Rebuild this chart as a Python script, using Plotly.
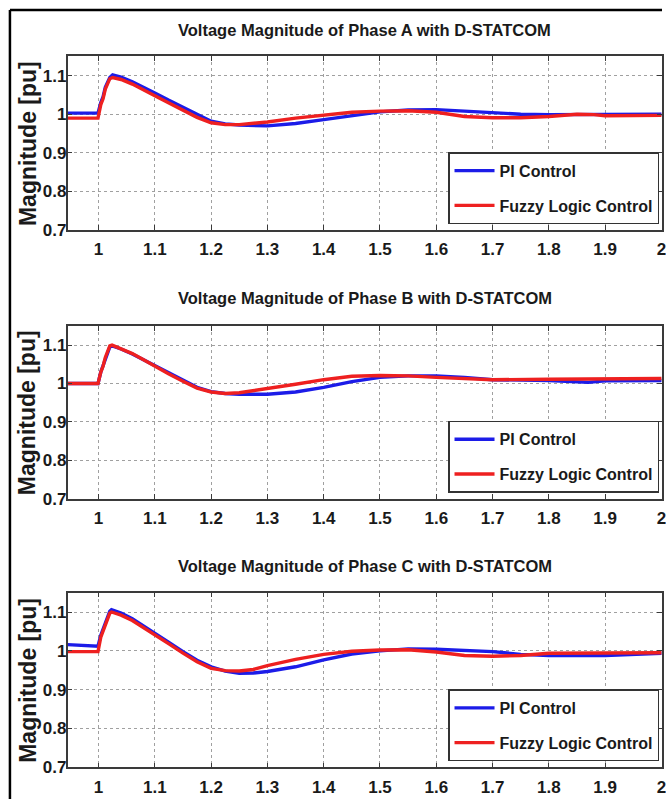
import plotly.graph_objects as go

# ---- Phase A ----
t_a_pi = [0.945, 0.999, 1.004, 1.008, 1.012, 1.02, 1.025, 1.04, 1.06, 1.08, 1.1, 1.125, 1.15, 1.175,
          1.2, 1.225, 1.25, 1.3, 1.35, 1.4, 1.45, 1.5, 1.55, 1.6, 1.65, 1.7, 1.75, 1.8, 1.9, 2.0]
v_a_pi = [1.003, 1.003, 1.03, 1.045, 1.07, 1.095, 1.102, 1.096, 1.084, 1.07, 1.055, 1.036, 1.018, 0.998,
          0.982, 0.975, 0.972, 0.97, 0.976, 0.986, 0.997, 1.006, 1.011, 1.012, 1.008, 1.004, 1.0, 0.999, 1.0, 1.0]
t_a_flc = [0.945, 0.999, 1.004, 1.008, 1.012, 1.02, 1.025, 1.04, 1.06, 1.08, 1.1, 1.125, 1.15, 1.175,
           1.2, 1.225, 1.25, 1.3, 1.35, 1.4, 1.45, 1.5, 1.55, 1.6, 1.65, 1.7, 1.75, 1.8, 1.85, 1.88, 1.9, 2.0]
v_a_flc = [0.99, 0.99, 1.025, 1.04, 1.065, 1.092, 1.095, 1.09, 1.078, 1.064, 1.048, 1.029, 1.01, 0.992,
           0.978, 0.973, 0.973, 0.98, 0.99, 0.998, 1.005, 1.008, 1.009, 1.005, 0.994, 0.991, 0.991, 0.994,
           1.0, 0.999, 0.996, 0.997]

# ---- Phase B ----
t_b_pi = [0.945, 0.999, 1.004, 1.008, 1.012, 1.02, 1.024, 1.04, 1.06, 1.08, 1.1, 1.125, 1.15, 1.175,
          1.2, 1.225, 1.25, 1.3, 1.35, 1.4, 1.45, 1.5, 1.55, 1.6, 1.65, 1.7, 1.8, 1.85, 1.87, 1.9, 2.0]
v_b_pi = [1.0, 1.0, 1.03, 1.045, 1.065, 1.095, 1.098, 1.09, 1.077, 1.062, 1.046, 1.027, 1.008, 0.99,
          0.979, 0.974, 0.972, 0.972, 0.978, 0.99, 1.005, 1.016, 1.02, 1.02, 1.016, 1.01, 1.008, 1.004,
          1.003, 1.007, 1.008]
t_b_flc = [0.945, 0.999, 1.004, 1.008, 1.012, 1.02, 1.024, 1.04, 1.06, 1.08, 1.1, 1.125, 1.15, 1.175,
           1.2, 1.225, 1.25, 1.3, 1.35, 1.4, 1.45, 1.5, 1.55, 1.6, 1.7, 1.8, 1.9, 2.0]
v_b_flc = [1.0, 1.0, 1.03, 1.045, 1.068, 1.098, 1.1, 1.091, 1.078, 1.062, 1.045, 1.025, 1.006, 0.988,
           0.978, 0.974, 0.976, 0.986, 0.998, 1.01, 1.019, 1.021, 1.02, 1.016, 1.01, 1.011, 1.013, 1.013]

# ---- Phase C ----
t_c_pi = [0.945, 0.999, 1.004, 1.008, 1.014, 1.02, 1.023, 1.04, 1.06, 1.08, 1.1, 1.125, 1.15, 1.175,
          1.2, 1.225, 1.25, 1.275, 1.3, 1.35, 1.4, 1.45, 1.5, 1.55, 1.6, 1.65, 1.7, 1.75, 1.8, 1.9, 1.95, 2.0]
v_c_pi = [1.016, 1.012, 1.04, 1.055, 1.08, 1.102, 1.106, 1.097, 1.083, 1.065, 1.046, 1.022, 0.998, 0.976,
          0.959, 0.948, 0.942, 0.943, 0.947, 0.959, 0.977, 0.992, 1.0, 1.005, 1.004, 1.0, 0.998, 0.991,
          0.988, 0.988, 0.99, 0.994]
t_c_flc = [0.945, 0.999, 1.004, 1.008, 1.014, 1.02, 1.023, 1.04, 1.06, 1.08, 1.1, 1.125, 1.15, 1.175,
           1.2, 1.225, 1.25, 1.275, 1.3, 1.35, 1.4, 1.45, 1.5, 1.55, 1.6, 1.65, 1.7, 1.75, 1.8, 1.9, 2.0]
v_c_flc = [0.998, 0.998, 1.035, 1.05, 1.075, 1.097, 1.1, 1.092, 1.078, 1.06, 1.042, 1.018, 0.994, 0.972,
           0.955, 0.949, 0.948, 0.952, 0.962, 0.978, 0.991, 0.999, 1.002, 1.003, 0.997, 0.988, 0.986,
           0.988, 0.994, 0.995, 0.995]

phases = ["A", "B", "C"]
series = [
    (t_a_pi, v_a_pi, t_a_flc, v_a_flc),
    (t_b_pi, v_b_pi, t_b_flc, v_b_flc),
    (t_c_pi, v_c_pi, t_c_flc, v_c_flc),
]
x_ticks = [1.0, 1.1, 1.2, 1.3, 1.4, 1.5, 1.6, 1.7, 1.8, 1.9, 2.0]
x_tick_labels = ["1", "1.1", "1.2", "1.3", "1.4", "1.5", "1.6", "1.7", "1.8", "1.9", "2"]
y_ticks = [0.7, 0.8, 0.9, 1.0, 1.1]
y_tick_labels = ["0.7", "0.8", "0.9", "1", "1.1"]

W, H = 666, 809
FONT = "Liberation Sans, Arial, Helvetica, sans-serif"
TXT = "#1a1a1a"
PI_COLOR = "#1c1ce8"
FLC_COLOR = "#ee2020"

# panel boxes in pixels: (top, bottom)
panels_px = [(57, 233), (330, 505), (600, 777)]
title_px = [30, 302, 573]
x_left_px, x_right_px = 68, 666

fig = go.Figure()
layout = dict(
    width=W, height=H,
    margin=dict(l=0, r=0, t=0, b=0),
    paper_bgcolor="white", plot_bgcolor="white",
    showlegend=True,
    font=dict(family=FONT, color=TXT, size=18),
)
annotations = []

for i, (ph, (tp, vp, tf, vf)) in enumerate(zip(phases, series)):
    n = "" if i == 0 else str(i + 1)
    xa, ya = "x" + n, "y" + n
    leg = "legend" + n
    fig.add_trace(go.Scatter(x=tp, y=vp, mode="lines", name="PI Control",
                             line=dict(color=PI_COLOR, width=3.4),
                             xaxis=xa, yaxis=ya, legend=leg, legendgroup="pi" + n))
    fig.add_trace(go.Scatter(x=tf, y=vf, mode="lines", name="Fuzzy Logic Control",
                             line=dict(color=FLC_COLOR, width=3.4),
                             xaxis=xa, yaxis=ya, legend=leg, legendgroup="flc" + n))
    top, bot = panels_px[i]
    ydom = [1 - bot / H, 1 - top / H]
    axis_common = dict(
        showline=True, linecolor="#3a3a3a", linewidth=1.6, mirror="allticks",
        ticks="inside", ticklen=5, tickcolor="#3a3a3a", tickwidth=1.2,
        showgrid=True, gridcolor="#a0a0a0", griddash="dot", gridwidth=1,
        zeroline=False, tickfont=dict(family=FONT, size=17, color=TXT, weight="bold"),
    )
    layout["xaxis" + n] = dict(
        axis_common, domain=[x_left_px / W, x_right_px / W], range=[0.945, 2.001],
        anchor=ya, tickvals=x_ticks, ticktext=x_tick_labels,
        ticklabeloverflow="allow", ticklabelstandoff=3,
    )
    layout["yaxis" + n] = dict(
        axis_common, domain=ydom, range=[0.7, 1.15], anchor=xa,
        tickvals=y_ticks, ticktext=y_tick_labels, ticklabelstandoff=-4,
    )
    layout[leg] = dict(
        x=663 / W, xanchor="right", y=1 - (bot - 6) / H, yanchor="bottom",
        bgcolor="white", bordercolor="#333333", borderwidth=1.5,
        font=dict(family=FONT, size=16, color=TXT, weight="bold"), tracegroupgap=11,
        itemwidth=40,
    )
    annotations.append(dict(
        text=f"<b>Voltage Magnitude of Phase {ph} with D-STATCOM</b>",
        xref="paper", yref="paper", x=(x_left_px + x_right_px) / 2 / W, y=1 - title_px[i] / H,
        xanchor="center", yanchor="middle", showarrow=False,
        font=dict(family=FONT, size=16.5, color=TXT),
    ))
    annotations.append(dict(
        text="<b>Magnitude [pu]</b>", textangle=-90,
        xref="paper", yref="paper", x=28 / W, y=1 - (top + bot) / 2 / H,
        xanchor="center", yanchor="middle", showarrow=False,
        font=dict(family=FONT, size=23, color=TXT),
    ))

layout["annotations"] = annotations
# outer figure frame (top and left edges)
layout["shapes"] = [
    dict(type="line", xref="paper", yref="paper", x0=10 / W, x1=1.0, y0=1 - 10 / H, y1=1 - 10 / H,
         line=dict(color="black", width=2.5)),
    dict(type="line", xref="paper", yref="paper", x0=10 / W, x1=10 / W, y0=0, y1=1 - 10 / H,
         line=dict(color="black", width=2.5)),
]
fig.update_layout(**layout)
fig.write_html("out.html")
